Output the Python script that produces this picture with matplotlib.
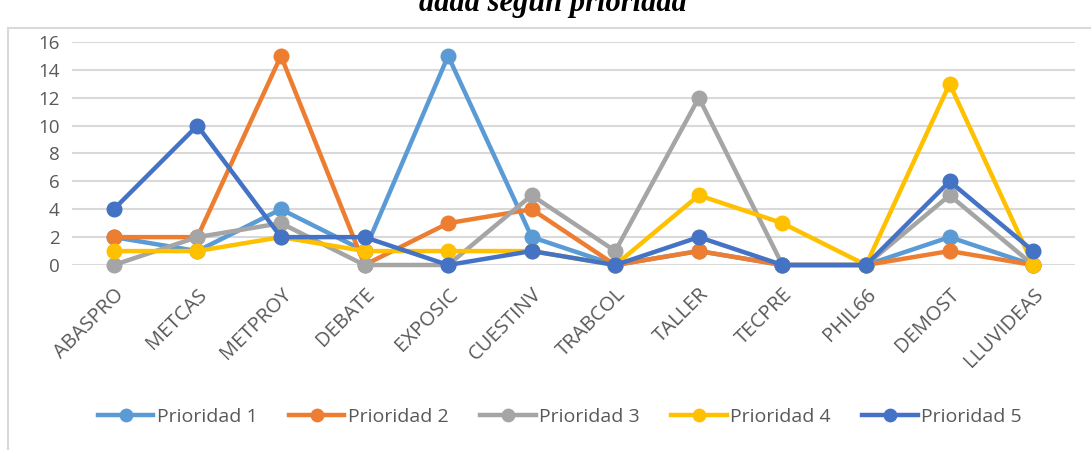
import matplotlib
matplotlib.use("Agg")
import matplotlib.pyplot as plt
from matplotlib.patches import Rectangle

categories = ["ABASPRO", "METCAS", "METPROY", "DEBATE", "EXPOSIC", "CUESTINV",
              "TRABCOL", "TALLER", "TECPRE", "PHIL66", "DEMOST", "LLUVIDEAS"]
p1 = [2, 1, 4, 1, 15, 2, 0, 1, 0, 0, 2, 0]
p2 = [2, 2, 15, 0, 3, 4, 0, 1, 0, 0, 1, 0]
p3 = [0, 2, 3, 0, 0, 5, 1, 12, 0, 0, 5, 0]
p4 = [1, 1, 2, 1, 1, 1, 0, 5, 3, 0, 13, 0]
p5 = [4, 10, 2, 2, 0, 1, 0, 2, 0, 0, 6, 1]
series_names = ["Prioridad 1", "Prioridad 2", "Prioridad 3", "Prioridad 4", "Prioridad 5"]
colors = ["#5B9BD5", "#ED7D31", "#A5A5A5", "#FFC000", "#4472C4"]
title_text = "dada según prioridad"

plt.rcParams['font.family'] = ['Open Sans', 'DejaVu Sans']

W, H = 1091, 450
fig = plt.figure(figsize=(W / 100, H / 100), dpi=100)
fig.patches.append(Rectangle((8 / W, -0.1), 1.2, 1 - 28 / H + 0.1,
                             transform=fig.transFigure, fill=False,
                             edgecolor="#D9D9D9", linewidth=1.5))
fig.text(553 / W, 1 - 10.5 / H, title_text, ha="center", va="baseline",
         fontsize=22, fontweight="bold", fontstyle="italic",
         family=["Liberation Serif", "DejaVu Serif"])

ax = fig.add_axes([72 / W, 1 - 265 / H, (1075 - 72) / W, (265 - 42) / H])
x = list(range(len(categories)))
for vals, name, c in zip([p1, p2, p3, p4, p5], series_names, colors):
    ax.plot(x, vals, color=c, lw=3.2, marker="o", markersize=10.5, label=name,
            clip_on=False, solid_joinstyle="round")

ax.set_xlim(-0.5, len(categories) - 0.5)
ax.set_ylim(0, 16)
ax.set_yticks(range(0, 17, 2))
ax.yaxis.grid(True, color="#D9D9D9", lw=1.5)
ax.set_axisbelow(True)
for s in ax.spines.values():
    s.set_visible(False)
ax.tick_params(axis="both", length=0, colors="#595959")
ax.tick_params(axis="y", pad=9, labelsize=13.5)
ax.set_xticks(x)
ax.set_xticklabels(categories, rotation=45, ha="right", rotation_mode="anchor")
ax.tick_params(axis="x", pad=14, labelsize=14.5)

leg = ax.legend(loc="center", bbox_to_anchor=((560 - 72) / 1003, (265 - 417) / (265 - 42)),
                ncol=5, frameon=False, fontsize=14, handlelength=2.85,
                columnspacing=1.6, handletextpad=0.2, labelcolor="#595959",
                markerscale=0.85)

fig.savefig("out.png", dpi=100)
